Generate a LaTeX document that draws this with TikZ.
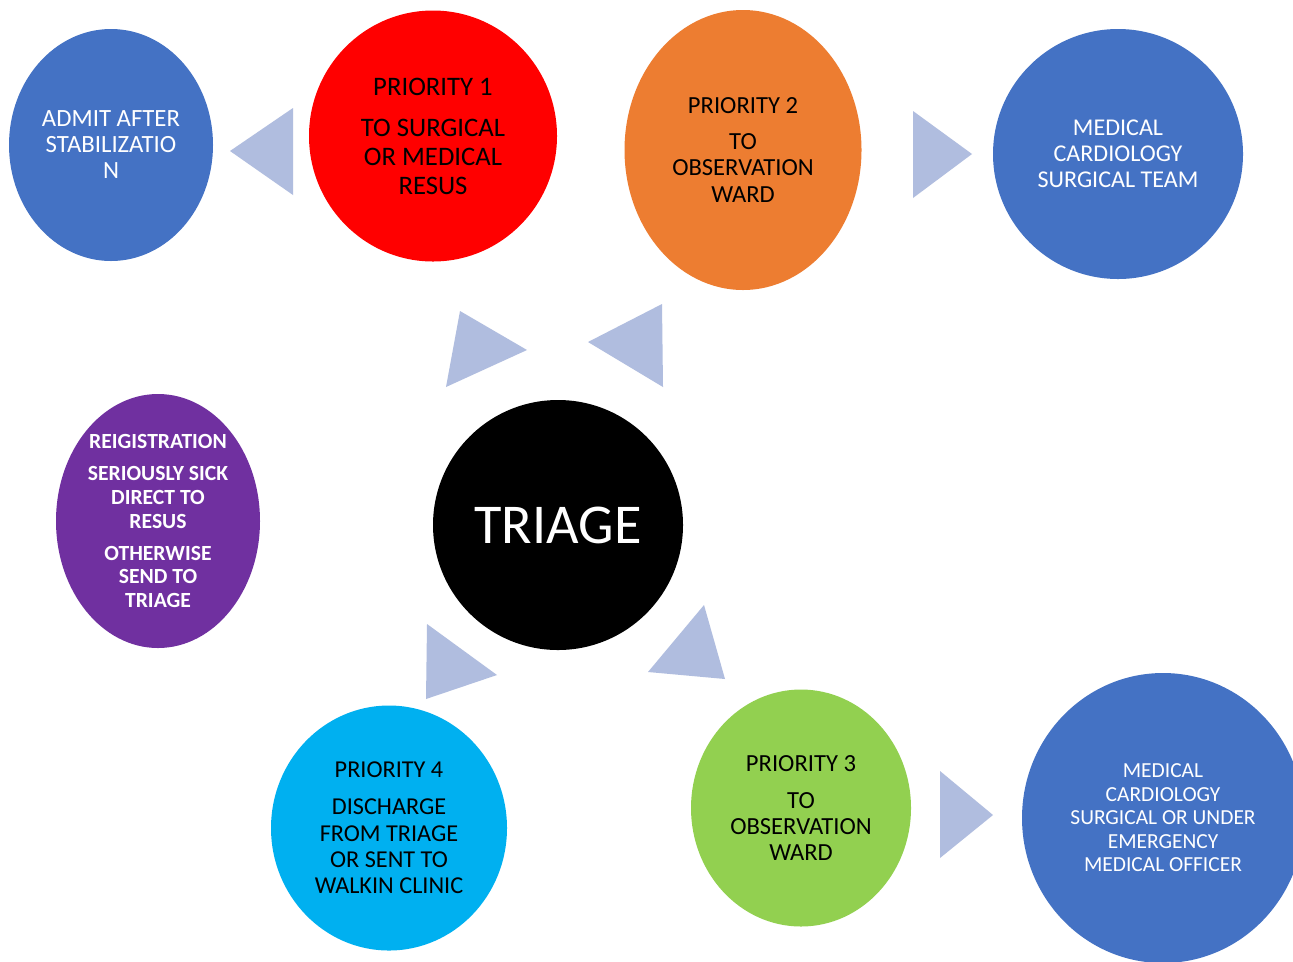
\documentclass[tikz,border=0pt]{standalone}
\usepackage{fontspec}
\setmainfont{Carlito}
\usetikzlibrary{shapes.geometric}
\definecolor{oblue}{RGB}{68,114,196}
\definecolor{ored}{RGB}{255,0,0}
\definecolor{oorange}{RGB}{237,125,49}
\definecolor{opurple}{RGB}{112,48,160}
\definecolor{ocyan}{RGB}{0,176,240}
\definecolor{ogreen}{RGB}{146,208,80}
\definecolor{otri}{RGB}{176,189,223}
\tikzset{
  blob/.style={ellipse, inner sep=0pt, outer sep=0pt, align=center},
  pointer/.style={fill=otri, draw=none},
}
\begin{document}
\begin{tikzpicture}[x=0.02cm, y=-0.02cm]
\useasboundingbox (0,0) rectangle (1293,961);
\clip (0,0) rectangle (1293,961);
\fill[white] (0,0) rectangle (1293,961);

% circles with their labels
\node[blob, fill=oblue, text=white, minimum width=204*0.02cm, minimum height=232*0.02cm,
      font={\fontsize{14.1}{14.8}\selectfont}] (admit) at (111,145)
  {ADMIT AFTER\\STABILIZATIO\\N};
\node[blob, fill=ored, text=black, minimum width=248*0.02cm, minimum height=251*0.02cm,
      font={\fontsize{15.2}{16.5}\selectfont}] (p1) at (433,136)
  {PRIORITY 1\\[6.8pt]TO SURGICAL\\OR MEDICAL\\RESUS};
\node[blob, fill=oorange, text=black, minimum width=237*0.02cm, minimum height=280*0.02cm,
      font={\fontsize{14}{14.8}\selectfont}] (p2) at (743,150)
  {PRIORITY 2\\[5.7pt]TO\\OBSERVATION\\WARD};
\node[blob, fill=oblue, text=white, minimum width=250*0.02cm, minimum height=250*0.02cm,
      font={\fontsize{13.7}{14.8}\selectfont}] (teamA) at (1118,154)
  {MEDICAL\\CARDIOLOGY\\SURGICAL TEAM};
\node[blob, fill=opurple, text=white, minimum width=204*0.02cm, minimum height=254*0.02cm,
      font={\fontsize{12.3}{13.4}\selectfont\bfseries}] (reg) at (158,521)
  {REIGISTRATION\\[4.8pt]SERIOUSLY SICK\\DIRECT TO\\RESUS\\[4.8pt]OTHERWISE\\SEND TO\\TRIAGE};
\node[blob, fill=black, text=white, minimum width=250*0.02cm, minimum height=250*0.02cm,
      font={\fontsize{32}{38}\selectfont}] (triage) at (558,525) {TRIAGE};
\node[blob, fill=ocyan, text=black, minimum width=236*0.02cm, minimum height=245*0.02cm,
      font={\fontsize{13.8}{15}\selectfont}] (p4) at (389,828)
  {PRIORITY 4\\[6pt]DISCHARGE\\FROM TRIAGE\\OR SENT TO\\WALKIN CLINIC};
\node[blob, fill=ogreen, text=black, minimum width=220*0.02cm, minimum height=237*0.02cm,
      font={\fontsize{14}{14.8}\selectfont}] (p3) at (801,808)
  {PRIORITY 3\\[6.3pt]TO\\OBSERVATION\\WARD};
\node[blob, fill=oblue, text=white, minimum width=282*0.02cm, minimum height=290*0.02cm,
      font={\fontsize{12.2}{13.4}\selectfont}] (teamB) at (1163,818)
  {MEDICAL\\CARDIOLOGY\\SURGICAL OR UNDER\\EMERGENCY\\MEDICAL OFFICER};

% triangular pointers
\fill[pointer] (230,151) -- (293,108) -- (293,195) -- cycle;
\fill[pointer] (913,111) -- (972,154) -- (913,198) -- cycle;
\fill[pointer] (460,311) -- (527,350) -- (446,387) -- cycle;
\fill[pointer] (588,342) -- (662,304) -- (663,387) -- cycle;
\fill[pointer] (427,624) -- (497,675) -- (426,699) -- cycle;
\fill[pointer] (704,605) -- (725,679) -- (648,672) -- cycle;
\fill[pointer] (940,771) -- (993,815) -- (940,858) -- cycle;
\end{tikzpicture}
\end{document}
